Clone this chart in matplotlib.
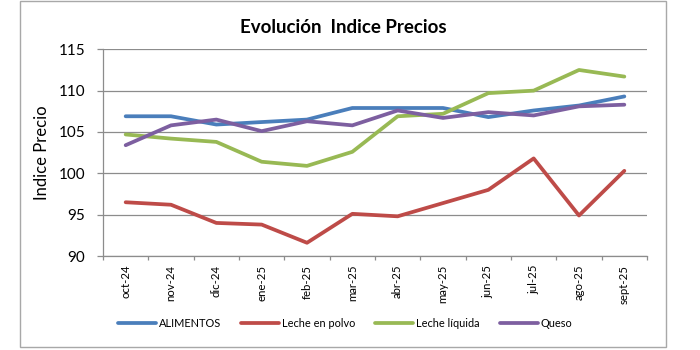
import matplotlib
matplotlib.use("Agg")
import matplotlib.pyplot as plt
from matplotlib.patches import Rectangle
import numpy as np

plt.rcParams['font.family'] = ['Lato', 'DejaVu Sans']

months = ["oct-24", "nov-24", "dic-24", "ene-25", "feb-25", "mar-25",
          "abr-25", "may-25", "jun-25", "jul-25", "ago-25", "sept-25"]
alimentos = [106.9, 106.9, 105.9, 106.2, 106.5, 107.9, 107.9, 107.9, 106.8, 107.6, 108.2, 109.3]
leche_polvo = [96.5, 96.2, 94.0, 93.8, 91.6, 95.1, 94.8, 96.4, 98.0, 101.8, 94.9, 100.3]
leche_liquida = [104.7, 104.2, 103.8, 101.4, 100.9, 102.6, 106.9, 107.2, 109.7, 110.0, 112.5, 111.7]
queso = [103.4, 105.8, 106.5, 105.1, 106.3, 105.8, 107.6, 106.7, 107.4, 107.0, 108.1, 108.3]
yticks = [90, 95, 100, 105, 110, 115]

series = [("ALIMENTOS", alimentos, "#4A7EBB"),
          ("Leche en polvo", leche_polvo, "#BE4B48"),
          ("Leche líquida", leche_liquida, "#98B954"),
          ("Queso", queso, "#7D5FA0")]

W, H = 700, 350
fig = plt.figure(figsize=(7, 3.5), dpi=100)

# chart border
fig.patches.append(Rectangle((20 / W, 1 - 347 / H), 646 / W, 346 / H,
                             transform=fig.transFigure, fill=False,
                             edgecolor="#A8A8A8", lw=1.0))

ax = fig.add_axes([103 / W, 1 - 256 / H, 544 / W, 206.7 / H])
x = np.arange(len(months))
for name, vals, col in series:
    ax.plot(x, vals, color=col, lw=2.7, label=name, solid_capstyle='round')

grid_col = "#8C8C8C"
ax.set_xlim(-0.5, len(months) - 0.5)
ax.set_ylim(min(yticks), max(yticks))
ax.set_yticks(yticks)
ax.yaxis.grid(True, color=grid_col, lw=0.9)
ax.set_axisbelow(True)
ax.set_xticks(x)
ax.set_xticklabels(months, rotation=90, fontsize=8.2)
ax.tick_params(axis='x', which='major', length=0, pad=6.3)
ax.set_xticks(np.arange(-0.5, len(months)), minor=True)
ax.tick_params(axis='x', which='minor', length=3, color=grid_col, width=0.9)
ax.tick_params(axis='y', length=4.5, color=grid_col, labelsize=11, pad=8.2, width=0.9)
for s in ["top", "right"]:
    ax.spines[s].set_visible(False)
for s in ["left", "bottom"]:
    ax.spines[s].set_color(grid_col)
    ax.spines[s].set_linewidth(0.9)

fig.text(42 / W, 1 - 153 / H, "Indice Precio", rotation=90, ha="center",
         va="center", fontsize=12)
fig.text(343 / W, 1 - 33.3 / H, "Evolución  Indice Precios", ha="center",
         va="baseline", fontsize=13.5, fontweight="bold")
fig.legend(loc="center", bbox_to_anchor=(345 / W, 1 - 323.5 / H), ncol=4,
           frameon=False, fontsize=7.9, handlelength=3.45, handletextpad=0.27,
           columnspacing=1.83, borderpad=0, borderaxespad=0)
fig.savefig("out.png", dpi=100)
